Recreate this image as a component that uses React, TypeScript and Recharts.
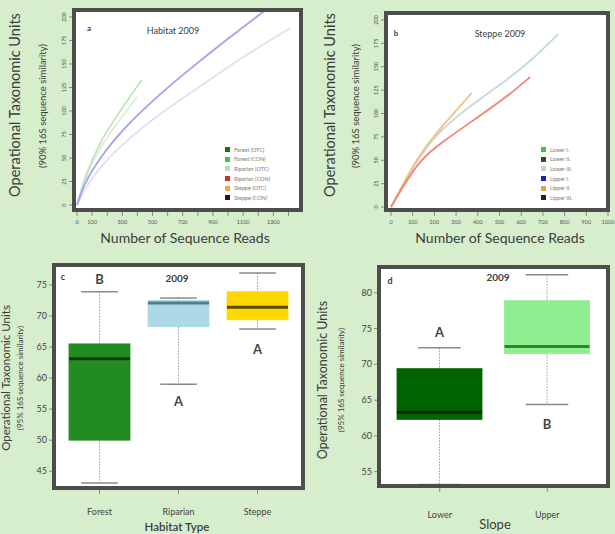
import React from 'react';
import { LineChart, Line, XAxis, YAxis, BarChart, Bar } from 'recharts';

const BG = '#d6eecc';
const INK = '#3c3c3c';
const FRAME = '#4d4d4d';
const FONT = 'Lato, "Open Sans", sans-serif';

// panel a: Habitat 2009 rarefaction curves
const aBlueReads = [0, 42, 152, 329, 528, 726, 991, 1245];
const aBlueOtus = [0, 21, 51, 85, 115, 142, 176, 207];
const aLavReads = [0, 64, 219, 483, 815, 1100, 1411];
const aLavOtus = [0, 22, 53, 90, 126, 158, 188];
const aGreenReads = [0, 50, 152, 285, 428];
const aGreenOtus = [0, 30, 68, 100, 133];
const aPaleReads = [0, 50, 150, 280, 397];
const aPaleOtus = [0, 27, 62, 90, 115];
const aXTicks = [0, 100, 200, 300, 400, 500, 600, 700, 800, 900, 1000, 1100, 1200, 1300, 1400];
const aXLabels = [0, 100, 300, 500, 700, 900, 1100, 1300];
const aLegend = ['Forest (OTC)', 'Forest (CON)', 'Riparian (OTC)', 'Riparian (CON)', 'Steppe (OTC)', 'Steppe (CON)'];
const aLegendColors = ['#1f6b1f', '#3cc43c', '#b2e0b2', '#d42a2a', '#e8a65a', '#3d1010'];

// panel b: Steppe 2009 rarefaction curves
const bBlueReads = [0, 126, 234, 387, 541, 648, 771];
const bBlueOtus = [0, 54, 84, 112, 137, 157, 185];
const bRedReads = [0, 126, 234, 387, 541, 641];
const bRedOtus = [0, 50, 69, 94, 119, 139];
const bOrangeReads = [0, 126, 234, 372];
const bOrangeOtus = [0, 56, 86, 122];
const bGreenReads = [0, 120, 234];
const bGreenOtus = [0, 52, 84];
const bXTicks = [0, 100, 200, 300, 400, 500, 600, 700, 800, 900, 1000];
const bLegend = ['Lower I.', 'Lower II.', 'Lower III.', 'Upper I.', 'Upper II.', 'Upper III.'];
const bLegendColors = ['#33cc33', '#2e4a2e', '#bcd6d6', '#2020c0', '#d4aa50', '#3a1a1a'];

const otuTicks = [0, 25, 50, 75, 100, 125, 150, 175, 200];

// panel c: habitat boxplots
const habitats = ['Forest', 'Riparian', 'Steppe'];
const cLow = [43.1, 59.0, 67.9];
const cQ1 = [50.0, 68.3, 69.4];
const cMed = [63.1, 72.1, 71.4];
const cQ3 = [65.5, 72.5, 73.9];
const cHigh = [73.9, 72.9, 76.9];
const cFill = ['#228b22', '#add8e6', '#ffd700'];
const cMedColor = ['#0b3d0b', '#4f7f8c', '#5c4a00'];
const cLetters = ['B', 'A', 'A'];
const cLetterAt = [75.9, 56.3, 64.7];
const cTicks = [45, 50, 55, 60, 65, 70, 75];

// panel d: slope boxplots
const slopes = ['Lower', 'Upper'];
const dLow = [53.2, 64.4];
const dQ1 = [62.3, 71.5];
const dMed = [63.3, 72.5];
const dQ3 = [69.4, 78.9];
const dHigh = [72.3, 82.5];
const dFill = ['#006400', '#90ee90'];
const dMedColor = ['#002800', '#1f8f1f'];
const dLetters = ['A', 'B'];
const dLetterAt = [74.5, 61.6];
const dTicks = [55, 60, 65, 70, 75, 80];

const pts = (xs: number[], ys: number[]) => xs.map((x, i) => ({ x, y: ys[i] }));

const boxRows = (names: string[], low: number[], q1: number[], med: number[], q3: number[], high: number[],
  fill: string[], medColor: string[], letter: string[], letterAt: number[]) =>
  names.map((name, i) => ({
    name, low: low[i], q1: q1[i], med: med[i], q3: q3[i], high: high[i],
    fill: fill[i], medColor: medColor[i], letter: letter[i], letterAt: letterAt[i],
  }));

const Txt = ({ x, y, size, children, rotate = 0, weight = 400, color = INK }: any) => (
  <div style={{
    position: 'absolute', left: x, top: y, transform: `translate(-50%, -50%) rotate(${rotate}deg)`,
    fontSize: size, fontWeight: weight, color, whiteSpace: 'nowrap', fontFamily: FONT, lineHeight: 1,
  }}>{children}</div>
);

const RotTick = ({ x, y, payload }: any) => (
  <text x={x} y={y} transform={`rotate(-90 ${x} ${y})`} textAnchor="middle" fontSize={5.5}
    fill="#555" fontFamily={FONT} dy={-1}>{payload.value}</text>
);

const SmallXTick = (labels: number[] | null) => ({ x, y, payload }: any) => (
  <text x={x} y={y} textAnchor="middle" fontSize={5.5} fill="#555" fontFamily={FONT} dy={6}>
    {labels === null || labels.includes(payload.value) ? payload.value : ''}
  </text>
);

const BoxYTick = ({ x, y, payload }: any) => (
  <text x={x} y={y} textAnchor="end" fontSize={9} fill="#444" fontFamily={FONT} dy={3}>{payload.value}</text>
);

const BoxXTick = (dy: number) => ({ x, y, payload }: any) => (
  <text x={x} y={y} textAnchor="middle" fontSize={9} fill="#444" fontFamily={FONT} dy={dy}>{payload.value}</text>
);

const makeBoxShape = (capRatio: number) => (props: any) => {
  const { x, y, width, height, payload: d } = props;
  const px = (v: number) => y + (height * (d.high - v)) / (d.high - d.low);
  const cx = x + width / 2;
  const cap = (width * capRatio) / 2;
  return (
    <g>
      <line x1={cx} x2={cx} y1={px(d.high)} y2={px(d.q3)} stroke="#9a9a9a" strokeWidth={1} strokeDasharray="1.5 1.5" />
      <line x1={cx} x2={cx} y1={px(d.q1)} y2={px(d.low)} stroke="#9a9a9a" strokeWidth={1} strokeDasharray="1.5 1.5" />
      <line x1={cx - cap} x2={cx + cap} y1={px(d.high)} y2={px(d.high)} stroke="#8a8a8a" strokeWidth={1.5} />
      <line x1={cx - cap} x2={cx + cap} y1={px(d.low)} y2={px(d.low)} stroke="#8a8a8a" strokeWidth={1.5} />
      <rect x={x} y={px(d.q3)} width={width} height={px(d.q1) - px(d.q3)} fill={d.fill}
        stroke={d.fill} strokeOpacity={0.8} strokeWidth={1} />
      <line x1={x} x2={x + width} y1={px(d.med)} y2={px(d.med)} stroke={d.medColor} strokeWidth={3} />
      <text x={cx} y={px(d.letterAt)} textAnchor="middle" dominantBaseline="central" fontSize={13}
        fontWeight={700} fill="#444" fontFamily={FONT}>{d.letter}</text>
    </g>
  );
};

const Border = ({ left, top, width, height }: any) => (
  <div style={{
    position: 'absolute', left: left - 2, top: top - 2, width: width + 4, height: height + 4,
    border: `4px solid ${FRAME}`, boxSizing: 'border-box', pointerEvents: 'none',
  }} />
);

const LegendBox = ({ left, top, labels, colors }: any) => (
  <div style={{ position: 'absolute', left, top, fontFamily: FONT }}>
    {labels.map((l: string, i: number) => (
      <div key={l} style={{ display: 'flex', alignItems: 'center', height: 9.6 }}>
        <div style={{ width: 5, height: 5, background: colors[i], marginRight: 4 }} />
        <span style={{ fontSize: 5.5, color: '#777' }}>{l}</span>
      </div>
    ))}
  </div>
);

const Panel = ({ left, top, w, h, plot, children }: any) => (
  <div style={{ position: 'absolute', left, top, width: w, height: h }}>
    <div style={{ position: 'absolute', left: plot.l, top: plot.t, width: plot.w, height: plot.h, background: '#fff' }} />
    <div style={{ position: 'absolute', left: 0, top: 0 }}>{children}</div>
    <Border left={plot.l} top={plot.t} width={plot.w} height={plot.h} />
  </div>
);

export default function App() {
  const cData = boxRows(habitats, cLow, cQ1, cMed, cQ3, cHigh, cFill, cMedColor, cLetters, cLetterAt);
  const dData = boxRows(slopes, dLow, dQ1, dMed, dQ3, dHigh, dFill, dMedColor, dLetters, dLetterAt);

  return (
    <div style={{ position: 'absolute', left: 0, top: 0, width: 615, height: 534, background: BG, overflow: 'hidden', fontFamily: FONT }}>
      {/* a */}
      <Panel left={0} top={0} w={310} h={250} plot={{ l: 74, t: 10, w: 227, h: 200 }}>
        <LineChart width={310} height={250} margin={{ top: 10, right: 9, bottom: 0, left: 0 }}>
          <XAxis type="number" dataKey="x" domain={[-20, 1483]} ticks={aXTicks} interval={0} allowDataOverflow
            axisLine={false} tickSize={6} tickLine={{ stroke: '#888' }} height={40} tick={SmallXTick(aXLabels)} />
          <YAxis type="number" dataKey="y" domain={[-5.3, 207.4]} ticks={otuTicks} interval={0} allowDataOverflow
            axisLine={false} tickSize={5} tickLine={{ stroke: '#888' }} width={74} tick={<RotTick />} />
          <Line data={pts(aPaleReads, aPaleOtus)} dataKey="y" type="basis" stroke="#d4eed0" strokeWidth={1.6} dot={false} isAnimationActive={false} />
          <Line data={pts(aGreenReads, aGreenOtus)} dataKey="y" type="basis" stroke="#b9e4b4" strokeWidth={1.6} dot={false} isAnimationActive={false} />
          <Line data={pts(aLavReads, aLavOtus)} dataKey="y" type="basis" stroke="#e4def3" strokeWidth={1.8} dot={false} isAnimationActive={false} />
          <Line data={pts(aBlueReads, aBlueOtus)} dataKey="y" type="basis" stroke="#a2a2ee" strokeWidth={1.8} dot={false} isAnimationActive={false} />
        </LineChart>
      </Panel>
      <Txt x={89} y={28} size={8} weight={700}>a</Txt>
      <Txt x={173} y={30} size={9}>Habitat 2009</Txt>
      <LegendBox left={225} top={145} labels={aLegend} colors={aLegendColors} />
      <Txt x={15} y={105} size={14.5} rotate={-90}>Operational Taxonomic Units</Txt>
      <Txt x={43} y={106} size={9.5} rotate={-90}>(90% 16S sequence similarity)</Txt>
      <Txt x={185} y={238} size={14}>Number of Sequence Reads</Txt>

      {/* b */}
      <Panel left={305} top={0} w={310} h={250} plot={{ l: 81, t: 13, w: 222, h: 197 }}>
        <LineChart width={310} height={250} margin={{ top: 13, right: 7, bottom: 0, left: 0 }}>
          <XAxis type="number" dataKey="x" domain={[-23, 1000]} ticks={bXTicks} interval={0} allowDataOverflow
            axisLine={false} tickSize={6} tickLine={{ stroke: '#888' }} height={40} tick={SmallXTick(null)} />
          <YAxis type="number" dataKey="y" domain={[-3.2, 207.5]} ticks={otuTicks} interval={0} allowDataOverflow
            axisLine={false} tickSize={5} tickLine={{ stroke: '#888' }} width={81} tick={<RotTick />} />
          <Line data={pts(bGreenReads, bGreenOtus)} dataKey="y" type="basis" stroke="#cde8c2" strokeWidth={1.6} dot={false} isAnimationActive={false} />
          <Line data={pts(bBlueReads, bBlueOtus)} dataKey="y" type="basis" stroke="#c4dada" strokeWidth={1.8} dot={false} isAnimationActive={false} />
          <Line data={pts(bOrangeReads, bOrangeOtus)} dataKey="y" type="basis" stroke="#f4c47e" strokeWidth={1.8} dot={false} isAnimationActive={false} />
          <Line data={pts(bRedReads, bRedOtus)} dataKey="y" type="basis" stroke="#f2837b" strokeWidth={1.8} dot={false} isAnimationActive={false} />
        </LineChart>
      </Panel>
      <Txt x={396} y={33} size={8} weight={700}>b</Txt>
      <Txt x={500} y={33} size={9}>Steppe 2009</Txt>
      <LegendBox left={541} top={145} labels={bLegend} colors={bLegendColors} />
      <Txt x={330} y={105} size={14.5} rotate={-90}>Operational Taxonomic Units</Txt>
      <Txt x={356} y={106} size={9.5} rotate={-90}>(90% 16S sequence similarity)</Txt>
      <Txt x={500} y={238} size={14}>Number of Sequence Reads</Txt>

      {/* c */}
      <Panel left={0} top={250} w={310} h={284} plot={{ l: 54, t: 15, w: 249, h: 223 }}>
        <BarChart width={310} height={284} data={cData} margin={{ top: 15, right: 7, bottom: 0, left: 0 }}>
          <XAxis dataKey="name" axisLine={false} tickSize={6} tickLine={{ stroke: '#888' }} height={46}
            padding={{ left: 6, right: 6 }} tick={BoxXTick(19)} />
          <YAxis type="number" domain={[42.3, 78.2]} ticks={cTicks} interval={0} allowDataOverflow axisLine={false}
            tickSize={5} tickLine={{ stroke: '#888' }} width={54} tick={<BoxYTick />} />
          <Bar dataKey={(d: any) => [d.low, d.high]} barSize={61} shape={makeBoxShape(0.6)} isAnimationActive={false} />
        </BarChart>
      </Panel>
      <Txt x={63} y={276} size={9} weight={700}>c</Txt>
      <Txt x={177} y={278} size={10} weight={700}>2009</Txt>
      <Txt x={6} y={378} size={11.5} rotate={-90}>Operational Taxonomic Units</Txt>
      <Txt x={20} y={378} size={8} rotate={-90}>(95% 16S sequence similarity)</Txt>
      <Txt x={177} y={527} size={11.5} weight={600}>Habitat Type</Txt>

      {/* d */}
      <Panel left={305} top={250} w={310} h={284} plot={{ l: 74, t: 17, w: 229, h: 219 }}>
        <BarChart width={310} height={284} data={dData} margin={{ top: 17, right: 7, bottom: 0, left: 0 }}>
          <XAxis dataKey="name" axisLine={false} tickSize={6} tickLine={{ stroke: '#888' }} height={48}
            padding={{ left: 7, right: 7 }} tick={BoxXTick(24)} />
          <YAxis type="number" domain={[53.0, 83.6]} ticks={dTicks} interval={0} allowDataOverflow axisLine={false}
            tickSize={5} tickLine={{ stroke: '#888' }} width={74} tick={<BoxYTick />} />
          <Bar dataKey={(d: any) => [d.low, d.high]} barSize={85} shape={makeBoxShape(0.5)} isAnimationActive={false} />
        </BarChart>
      </Panel>
      <Txt x={390} y={280} size={9} weight={700}>d</Txt>
      <Txt x={498} y={277} size={10} weight={700}>2009</Txt>
      <Txt x={323} y={380} size={12.5} rotate={-90}>Operational Taxonomic Units</Txt>
      <Txt x={341} y={380} size={8} rotate={-90}>(95% 16S sequence similarity)</Txt>
      <Txt x={495} y={524} size={13}>Slope</Txt>
    </div>
  );
}
